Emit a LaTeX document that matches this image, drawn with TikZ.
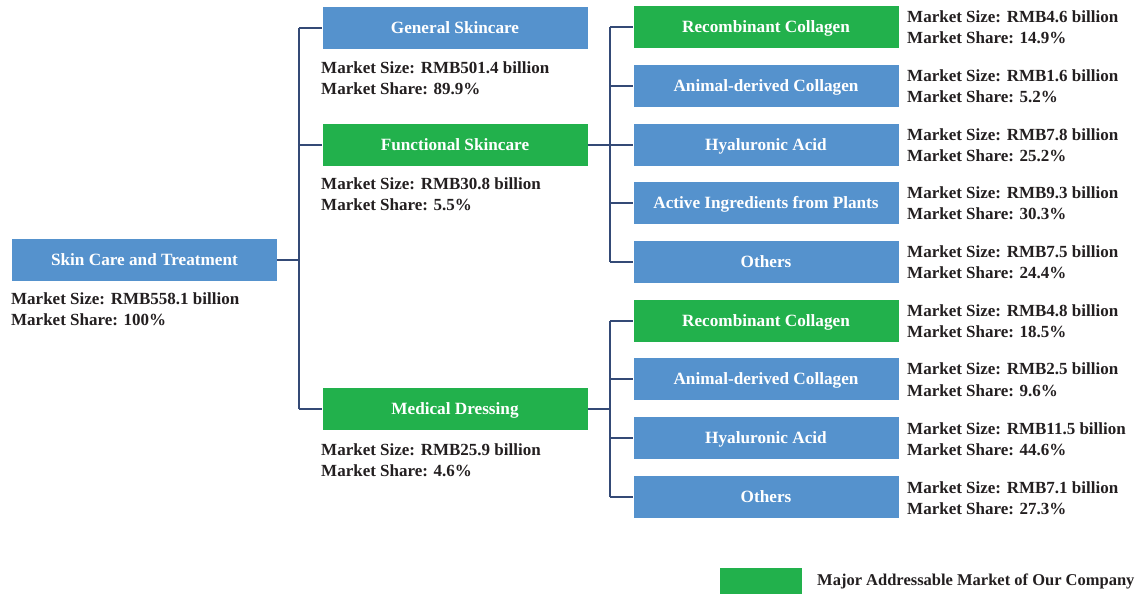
\documentclass[tikz,border=0pt]{standalone}
\usepackage{fontspec}
\setmainfont{Liberation Serif}
\definecolor{boxblue}{RGB}{85,146,205}
\definecolor{boxgreen}{RGB}{34,177,76}
\definecolor{inkdark}{RGB}{35,31,32}
\definecolor{linknavy}{RGB}{52,74,118}
\tikzset{
  seg/.style={rectangle, minimum width=265pt, minimum height=42pt, inner sep=0pt,
    text height=11.4pt, text depth=0pt,
    text=white, font=\fontsize{17.2}{20}\selectfont\bfseries},
  bluebox/.style={seg, fill=boxblue},
  greenbox/.style={seg, fill=boxgreen},
  info/.style={anchor=north west, inner sep=0pt, align=left, text=inkdark,
    font=\fontsize{17}{21}\selectfont\bfseries},
  link/.style={draw=linknavy, line width=1.2pt}
}
\begin{document}
\begin{tikzpicture}[x=1pt, y=-1pt]
\useasboundingbox (0,0) rectangle (1137,594);

% bus positions
\coordinate (busA) at (299,0);
\coordinate (busB) at (610,0);

% root
\node[bluebox] (root) at (144.5,260) {Skin Care and Treatment};
\node[info] (rootinfo) at (11,293) {Market Size: RMB558.1 billion\\Market Share: 100\%};

% first level
\node[bluebox]  (gen) at (455,28)  {General Skincare};
\node[info] (geninfo) at (321,62) {Market Size: RMB501.4 billion\\Market Share: 89.9\%};
\node[greenbox] (fun) at (455,145) {Functional Skincare};
\node[info] (funinfo) at (321,178) {Market Size: RMB30.8 billion\\Market Share: 5.5\%};
\node[greenbox] (med) at (455,409) {Medical Dressing};
\node[info] (medinfo) at (321,443) {Market Size: RMB25.9 billion\\Market Share: 4.6\%};

% functional skincare breakdown
\node[greenbox] (f1) at (766,27)  {Recombinant Collagen};
\node[bluebox]  (f2) at (766,86)  {Animal-derived Collagen};
\node[bluebox]  (f3) at (766,145) {Hyaluronic Acid};
\node[bluebox]  (f4) at (766,203) {Active Ingredients from Plants};
\node[bluebox]  (f5) at (766,262) {Others};
\node[info] (f1info) at (907,11)  {Market Size: RMB4.6 billion\\Market Share: 14.9\%};
\node[info] (f2info) at (907,70)  {Market Size: RMB1.6 billion\\Market Share: 5.2\%};
\node[info] (f3info) at (907,129) {Market Size: RMB7.8 billion\\Market Share: 25.2\%};
\node[info] (f4info) at (907,187) {Market Size: RMB9.3 billion\\Market Share: 30.3\%};
\node[info] (f5info) at (907,246) {Market Size: RMB7.5 billion\\Market Share: 24.4\%};

% medical dressing breakdown
\node[greenbox] (m1) at (766,321) {Recombinant Collagen};
\node[bluebox]  (m2) at (766,379) {Animal-derived Collagen};
\node[bluebox]  (m3) at (766,438) {Hyaluronic Acid};
\node[bluebox]  (m4) at (766,497) {Others};
\node[info] (m1info) at (907,305) {Market Size: RMB4.8 billion\\Market Share: 18.5\%};
\node[info] (m2info) at (907,363) {Market Size: RMB2.5 billion\\Market Share: 9.6\%};
\node[info] (m3info) at (907,422) {Market Size: RMB11.5 billion\\Market Share: 44.6\%};
\node[info] (m4info) at (907,481) {Market Size: RMB7.1 billion\\Market Share: 27.3\%};

% connectors: root to first level
\draw[link] (root.east) -- (root.east -| busA);
\draw[link] (gen.west -| busA) -- (med.west -| busA);
\foreach \n in {gen,fun,med} \draw[link] (\n.west -| busA) -- (\n.west);

% connectors: functional skincare group
\draw[link] (fun.east) -- (fun.east -| busB);
\draw[link] (f1.west -| busB) -- (f5.west -| busB);
\foreach \n in {f1,f2,f3,f4,f5} \draw[link] (\n.west -| busB) -- (\n.west);

% connectors: medical dressing group
\draw[link] (med.east) -- (med.east -| busB);
\draw[link] (m1.west -| busB) -- (m4.west -| busB);
\foreach \n in {m1,m2,m3,m4} \draw[link] (\n.west -| busB) -- (\n.west);

% legend
\node[rectangle, fill=boxgreen, minimum width=82pt, minimum height=26pt, inner sep=0pt, anchor=north west] (legkey) at (720,568) {};
\node[anchor=west, inner sep=0pt, text=inkdark, font=\fontsize{16.5}{19}\selectfont\bfseries] (legtext) at (817,581) {Major Addressable Market of Our Company};
\end{tikzpicture}
\end{document}
